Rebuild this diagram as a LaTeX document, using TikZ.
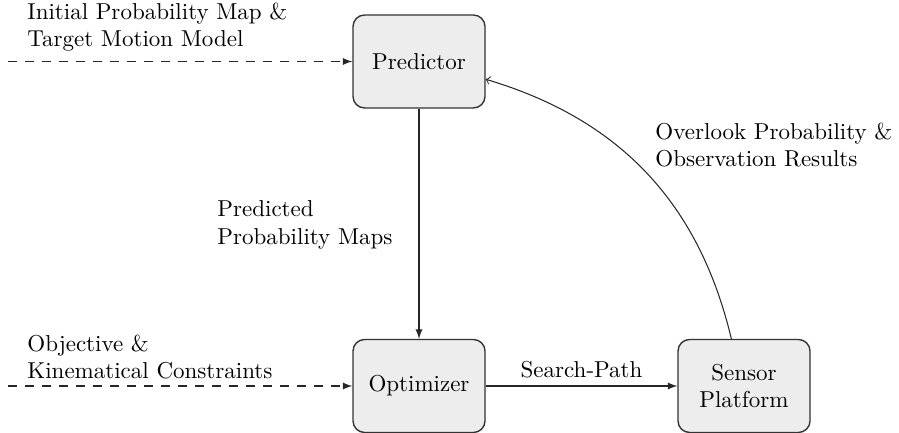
\documentclass[tikz,border=0pt]{standalone}
\usetikzlibrary{arrows}
\begin{document}
\begin{tikzpicture}[x=0.4348pt,y=-0.4348pt,
  box/.style={draw=black!80, fill=black!7, rounded corners=5pt, minimum width=57.4pt, minimum height=40.4pt, align=center, line width=0.6pt, inner sep=0pt},
  lbl/.style={align=left, inner sep=0pt, anchor=west},
  conn/.style={line width=0.45pt, draw=black!85},
  dsh/.style={conn, dash pattern=on 3.7pt off 3.7pt}]
\useasboundingbox (0,0) rectangle (899,433);
\node[box] (pred) at (419,61.5) {Predictor};
\node[box] (opt) at (419,386) {Optimizer};
\node[box] (sens) at (744,386) {Sensor\\Platform};
\coordinate (in1) at (8,61.5);
\coordinate (in2) at (8,386);
\draw[dsh,-latex] (in1) -- (pred.west);
\draw[dsh,-latex] (in2) -- (opt.west);
\draw[conn,-latex] (pred) -- (opt);
\draw[conn,-latex] (opt) -- node[above] (sp) {Search-Path} (sens);
\draw[conn,->] (sens) to[bend right] (pred);
\node[lbl] (l1) at (27,27) {Initial Probability Map \&\\Target Motion Model};
\node[lbl] (l2) at (27,357) {Objective \&\\Kinematical Constraints};
\node[lbl] (l3) at (217,225) {Predicted\\Probability Maps};
\node[lbl] (l4) at (655,145) {Overlook Probability \&\\Observation Results};
\end{tikzpicture}
\end{document}
